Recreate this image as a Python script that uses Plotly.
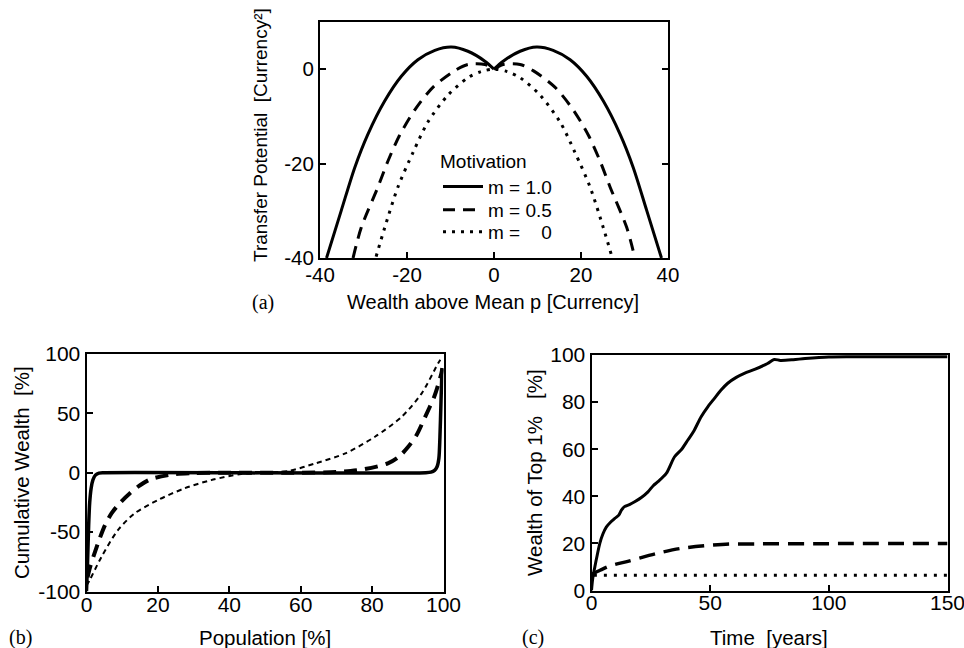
import plotly.graph_objects as go

W, H = 964, 648
NB = "\u00a0"

# ---------- panel (a): transfer potential ----------
a_m10_x = [-38.5, -35.1, -32.0, -29.0, -25.1, -21.3, -17.5, -13.6, -9.8, -6.0, -2.1, 0.0, None,
           0.0, 2.1, 6.0, 9.8, 13.6, 17.5, 21.3, 25.1, 29.0, 32.0, 35.1, 38.5]
a_m10_y = [-40, -29.9, -20.8, -13.8, -6.7, -1.5, 2.0, 4.0, 4.7, 3.8, 1.7, 0.0, None,
           0.0, 1.7, 3.8, 4.7, 4.0, 2.0, -1.5, -6.7, -13.8, -20.8, -29.9, -40]
a_m05_x = [-32.4, -30.5, -26.7, -24.4, -21.7, -18.2, -14.0, -9.0, -6.0, -2.1, 0.0, None,
           0.0, 2.1, 6.0, 9.0, 14.0, 18.2, 21.7, 24.4, 26.7, 30.5, 32.4]
a_m05_y = [-40, -33.5, -25.0, -19.5, -14.0, -8.6, -3.8, -0.3, 1.0, 1.0, 0.0, None,
           0.0, 1.0, 1.0, -0.3, -3.8, -8.6, -14.0, -19.5, -25.0, -33.5, -40]
a_m00_x = [-27.1, -25.1, -22.1, -18.6, -15.2, -10.6, -6.0, -3.0, 0.0,
           3.0, 6.0, 10.6, 15.2, 18.6, 22.1, 25.1, 27.1]
a_m00_y = [-39.7, -33.5, -25.0, -17.6, -11.2, -5.5, -1.8, -0.5, 0.0,
           -0.5, -1.8, -5.5, -11.2, -17.6, -25.0, -33.5, -39.7]

# ---------- panel (b): cumulative wealth ----------
b_m10_x = [0.0, 0.3, 0.6, 0.9, 1.3, 1.8, 2.5, 3.5, 5.0, 95.0, 96.5, 97.5, 98.2, 98.7, 99.0, 99.3, 99.5, 99.6]
b_m10_y = [-100, -75, -45, -25, -13, -6, -2, -0.3, 0, 0, 0.5, 2, 5, 12, 30, 60, 80, 88]
b_m05_x = [0.3, 0.9, 2.0, 3.7, 5.2, 7.0, 9.5, 12.1, 15.0, 18.1, 24.2, 30, 40, 60, 70, 74, 78.0,
           84.4, 87.5, 90.0, 92.5, 94.8, 97.4, 98.5, 99.4, 99.7]
b_m05_y = [-88, -80.6, -70, -55.3, -44, -34.2, -25, -17.4, -10.5, -5.3, -1.4, -0.3, 0, 0, 0.6, 1.5, 3.1,
           7.9, 13.5, 21.4, 32, 46.7, 64, 74, 83.7, 88]
b_m00_x = [0.0, 0.9, 4.2, 8.8, 13.5, 20.0, 27.4, 34.9, 43.3, 50.0, 56.6, 64.1, 72.5, 80.8, 88.3, 93.9, 98.5, 99.5]
b_m00_y = [-95, -90.4, -70.8, -48.3, -34.2, -23.0, -13.2, -6.2, -1.1, 0.0, 1.5, 7.9, 16.3, 30.3, 47.2, 66.9, 92.2, 97]

# ---------- panel (c): wealth of top 1% ----------
c_m10_x = [0, 0.5, 1.4, 2.4, 3.5, 4.8, 6.3, 8.0, 9.8, 11.5, 12.6, 13.9, 16.0, 18.2, 21.0, 23.8, 26.0,
           28.0, 31.5, 35.0, 38.0, 40.6, 43.0, 46.2, 49.0, 51.8, 54.5, 57.4, 61.0, 64.4, 69.0, 74.2,
           77.0, 79.6, 85, 90, 100, 110, 150]
c_m10_y = [0, 5, 10, 15, 20, 24, 27, 29, 30.6, 32, 34.1, 35.6, 36.5, 37.7, 39.5, 41.9, 44.5,
           46.2, 49.7, 56.8, 60, 63.9, 67.5, 73.8, 78, 81.6, 85, 88, 90.5, 92.2, 94, 96.4,
           98.1, 97.7, 98, 98.5, 99.2, 99.3, 99.3]
c_m05_x = [0.3, 3.8, 8.0, 16.1, 27.3, 37.8, 47.6, 58.1, 70, 100, 150]
c_m05_y = [7.0, 8.7, 10.5, 12.6, 15.7, 17.9, 19.0, 19.7, 19.8, 19.9, 20.0]
c_m00_x = [1.0, 150]
c_m00_y = [6.5, 6.5]

labels = ["m = 1.0", "m = 0.5", "m =" + NB * 4 + "0"]
legend_ids = ["legend", "legend2", "legend3"]

fig = go.Figure()

def add(x, y, ax, name, dash, width, leg=None):
    fig.add_trace(go.Scatter(
        x=x, y=y, mode="lines", name=name, showlegend=leg is not None,
        legend=leg if leg else "legend",
        xaxis=ax[0], yaxis=ax[1], connectgaps=False,
        line=dict(color="black", width=width, dash=dash, shape="spline", smoothing=0.8),
        hoverinfo="skip"))

add(a_m10_x, a_m10_y, ("x", "y"), labels[0], "solid", 3, legend_ids[0])
add(a_m05_x, a_m05_y, ("x", "y"), labels[1], "12px,8px", 3, legend_ids[1])
add(a_m00_x, a_m00_y, ("x", "y"), labels[2], "3px,6px", 3, legend_ids[2])

add(b_m10_x, b_m10_y, ("x2", "y2"), labels[0], "solid", 3.5)
add(b_m05_x, b_m05_y, ("x2", "y2"), labels[1], "13px,8px", 4)
add(b_m00_x, b_m00_y, ("x2", "y2"), labels[2], "5px,4px", 2)

add(c_m10_x, c_m10_y, ("x3", "y3"), labels[0], "solid", 3)
add(c_m05_x, c_m05_y, ("x3", "y3"), labels[1], "16px,9px", 3.5)
add(c_m00_x, c_m00_y, ("x3", "y3"), labels[2], "3px,7px", 3)

FONT = "Liberation Sans, Arial, sans-serif"
SERIF = "Liberation Serif, Times New Roman, serif"

def axis(domain, rng, vals, size, mirror, anchor, standoff=0):
    return dict(domain=domain, range=rng, tickvals=vals, ticktext=[str(v) for v in vals],
                showline=True, linecolor="black", linewidth=2, mirror=mirror,
                ticks="inside", ticklen=6, tickwidth=1.5, tickcolor="black",
                showgrid=False, zeroline=False, anchor=anchor, automargin=False,
                ticklabelstandoff=standoff, ticklabeloverflow="allow",
                tickfont=dict(family=FONT, size=size, color="black"))

a_xt = [-40, -20, 0, 20, 40]
a_yt = [-40, -20, 0]
b_xt = [0, 20, 40, 60, 80, 100]
b_yt = [-100, -50, 0, 50, 100]
c_xt = [0, 50, 100, 150]
c_yt = [0, 20, 40, 60, 80, 100]

LEGFONT = dict(family=FONT, size=19, color="black")

def leg(ycenter, title=None):
    d = dict(x=438/W, xanchor="left", bgcolor="rgba(0,0,0,0)", font=LEGFONT,
             itemwidth=40, tracegroupgap=0, borderwidth=0)
    if title:
        d.update(y=1-ycenter/H, yanchor="top", title=dict(text=title, font=LEGFONT))
    else:
        d.update(y=1-ycenter/H, yanchor="middle")
    return d

fig.update_layout(
    width=W, height=H, margin=dict(l=0, r=0, t=0, b=0, autoexpand=False),
    paper_bgcolor="white", plot_bgcolor="white",
    font=dict(family=FONT, color="black"),
    xaxis=axis([320/W, 668/W], [-40, 40], a_xt, 20.5, True, "y", -3),
    yaxis=axis([1-258/H, 1-22/H], [-40, 10], a_yt, 20.5, "ticks", "x"),
    xaxis2=axis([86.5/W, 443.5/W], [0, 100], b_xt, 21, True, "y2", -7),
    yaxis2=axis([1-591.5/H, 1-354/H], [-100, 100], b_yt, 21, True, "x2"),
    xaxis3=axis([591.5/W, 947.5/W], [0, 150], c_xt, 21, True, "y3", -8),
    yaxis3=axis([1-590.5/H, 1-355/H], [0, 100], c_yt, 21, True, "x3"),
    legend=leg(143, "Motivation"),
    legend2=leg(210),
    legend3=leg(232),
)

def note(text, x, y, size, family=FONT, angle=0):
    fig.add_annotation(text=text, x=x/W, y=1-y/H, xref="paper", yref="paper",
                       xanchor="center", yanchor="middle", showarrow=False, textangle=angle,
                       font=dict(family=family, size=size, color="black"))

note("Transfer Potential" + NB * 2 + "[Currency²]", 260, 135, 19, angle=-90)
note("Wealth above Mean p [Currency]", 493, 302, 20)
note("(a)", 263, 302, 20, SERIF)
note("Cumulative Wealth" + NB * 2 + "[%]", 21, 473, 20.5, angle=-90)
note("Population [%]", 265, 637, 20.5)
note("(b)", 20, 637, 20, SERIF)
note("Wealth of Top 1%" + NB * 3 + "[%]", 534, 473, 20.5, angle=-90)
note("Time" + NB * 2 + "[years]", 769, 637, 20.5)
note("(c)", 533, 637, 20, SERIF)

fig.write_html("out.html")
